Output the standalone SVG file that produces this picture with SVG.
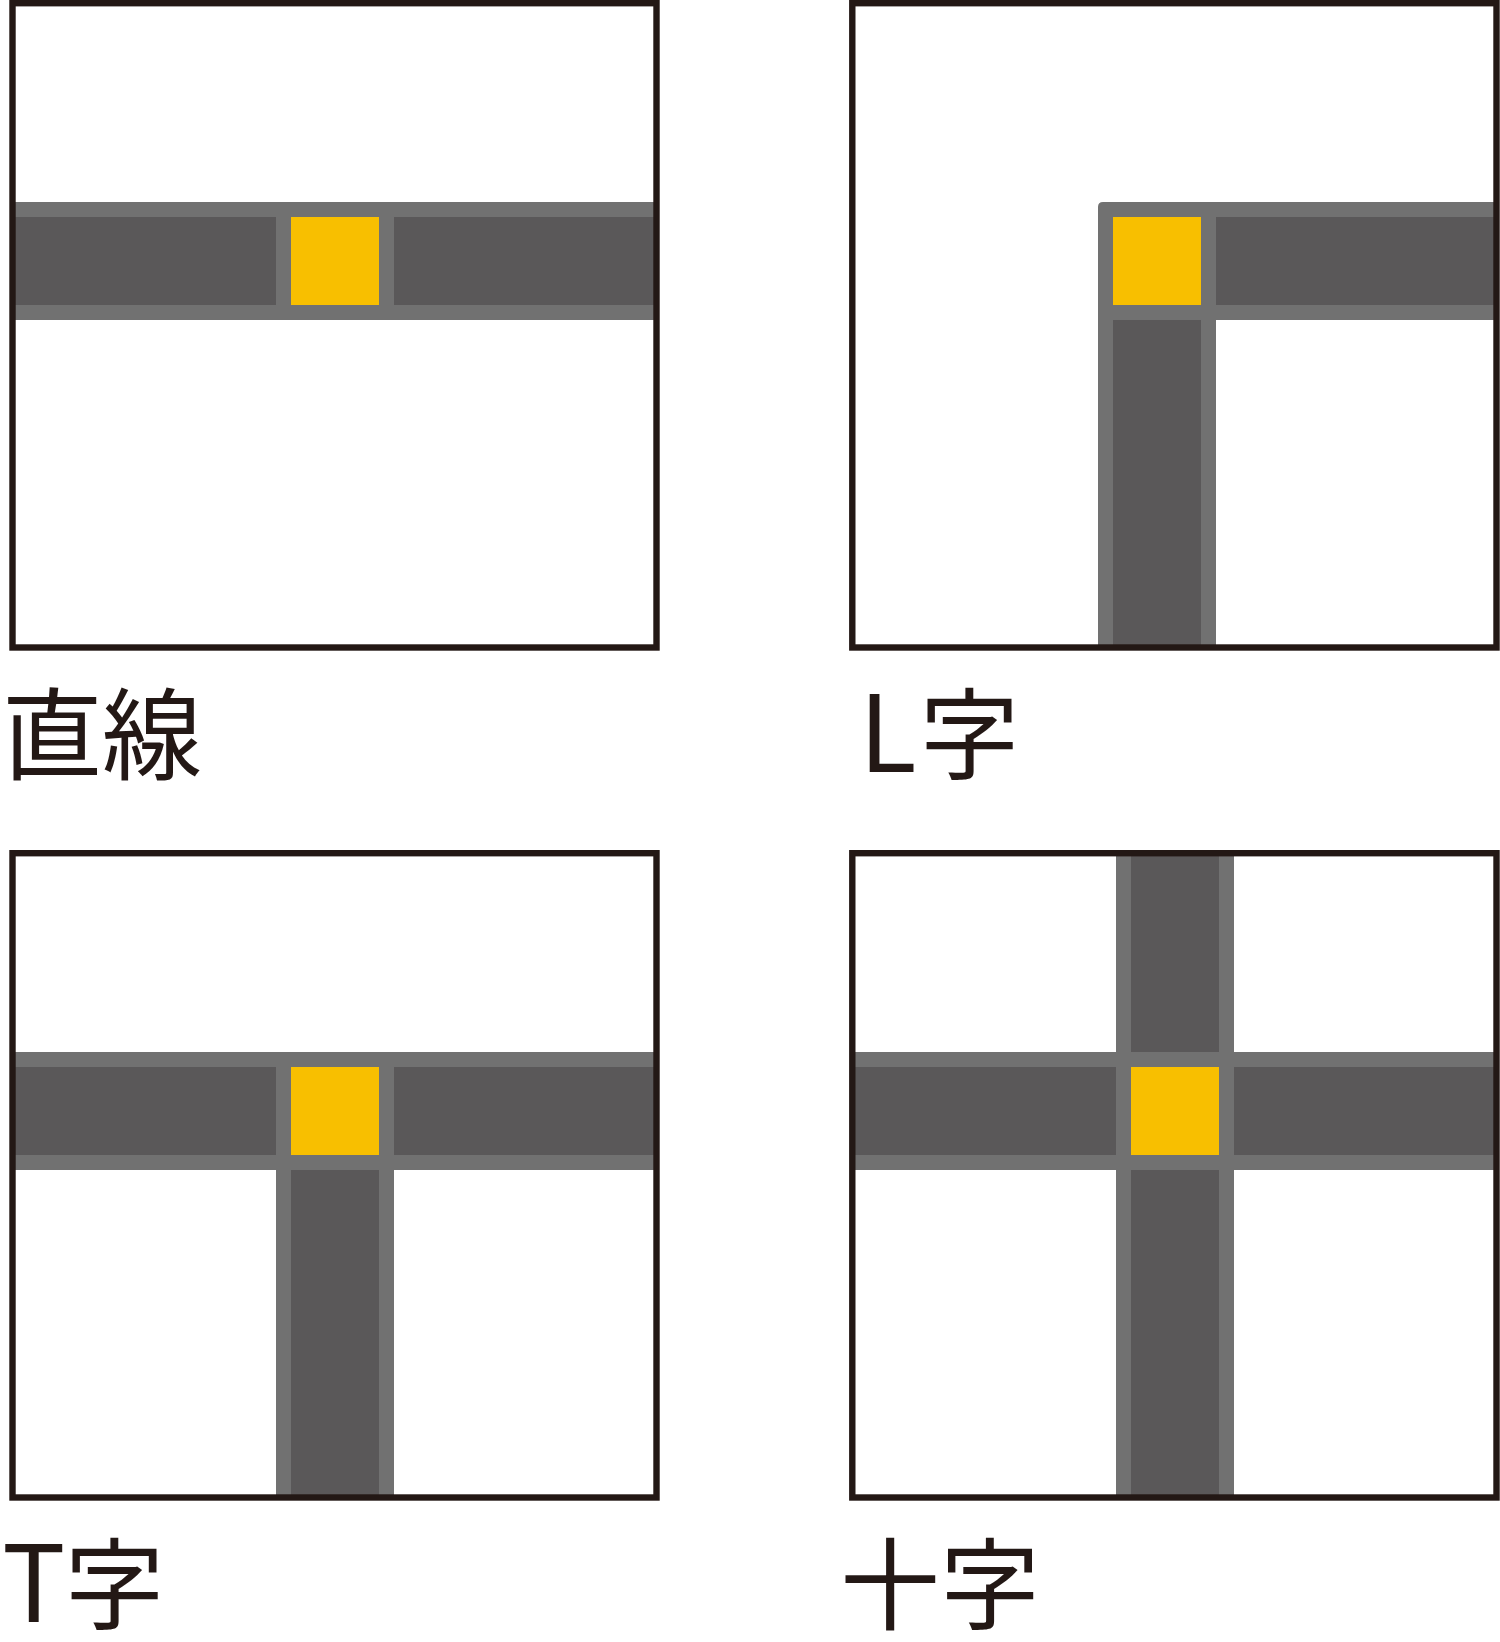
<svg xmlns="http://www.w3.org/2000/svg" width="1500" height="1642" viewBox="0 0 1500 1642">
<style>
.edge{fill:#717171}
.road{fill:#5a5859}
.hub{fill:#f8bf00}
.frame{fill:none;stroke:#231815;stroke-width:6.4}
.label{font-family:"Noto Sans CJK JP","Noto Sans CJK SC",sans-serif;font-size:100px;fill:#231815}
.latin{font-size:106px}
</style>
<rect width="1500" height="1642" fill="#ffffff"/>
<g id="straight">
<rect class="edge" x="12.5" y="202" width="644" height="118"/>
<rect class="road" x="12.5" y="217" width="263.5" height="88"/>
<rect class="road" x="394" y="217" width="262.5" height="88"/>
<rect class="hub" x="291" y="217" width="88" height="88"/>
<rect class="frame" x="12.5" y="3.2" width="644" height="644.3"/>
<text class="label" x="2" y="772">直線</text>
</g>
<g id="l-shape">
<path class="edge" d="M1098,207 Q1098,202 1103,202 L1496.5,202 L1496.5,320 L1216,320 L1216,647.5 L1098,647.5 Z"/>
<rect class="road" x="1216" y="217" width="280.5" height="88"/>
<rect class="road" x="1113" y="320" width="88" height="327.5"/>
<rect class="hub" x="1113" y="217" width="88" height="88"/>
<rect class="frame" x="852.3" y="3.2" width="644.2" height="644.3"/>
<text class="label" x="859" y="772"><tspan class="latin">L</tspan><tspan x="919.5">字</tspan></text>
</g>
<g id="t-shape">
<rect class="edge" x="12.5" y="1052" width="644" height="118"/>
<rect class="edge" x="276" y="1052" width="118" height="445.5"/>
<rect class="road" x="12.5" y="1067" width="263.5" height="88"/>
<rect class="road" x="394" y="1067" width="262.5" height="88"/>
<rect class="road" x="291" y="1170" width="88" height="327.5"/>
<rect class="hub" x="291" y="1067" width="88" height="88"/>
<rect class="frame" x="12.5" y="853.2" width="644" height="644.3"/>
<text class="label" x="2" y="1622"><tspan class="latin">T</tspan><tspan x="64.5">字</tspan></text>
</g>
<g id="cross">
<rect class="edge" x="852.3" y="1052" width="644.2" height="118"/>
<rect class="edge" x="1116" y="853.2" width="118" height="644.3"/>
<rect class="road" x="852.3" y="1067" width="263.7" height="88"/>
<rect class="road" x="1234" y="1067" width="262.5" height="88"/>
<rect class="road" x="1131" y="853.2" width="88" height="198.8"/>
<rect class="road" x="1131" y="1170" width="88" height="327.5"/>
<rect class="hub" x="1131" y="1067" width="88" height="88"/>
<rect class="frame" x="852.3" y="853.2" width="644.2" height="644.3"/>
<text class="label" x="840" y="1622">十字</text>
</g>
<g id="connectors"/>
</svg>
